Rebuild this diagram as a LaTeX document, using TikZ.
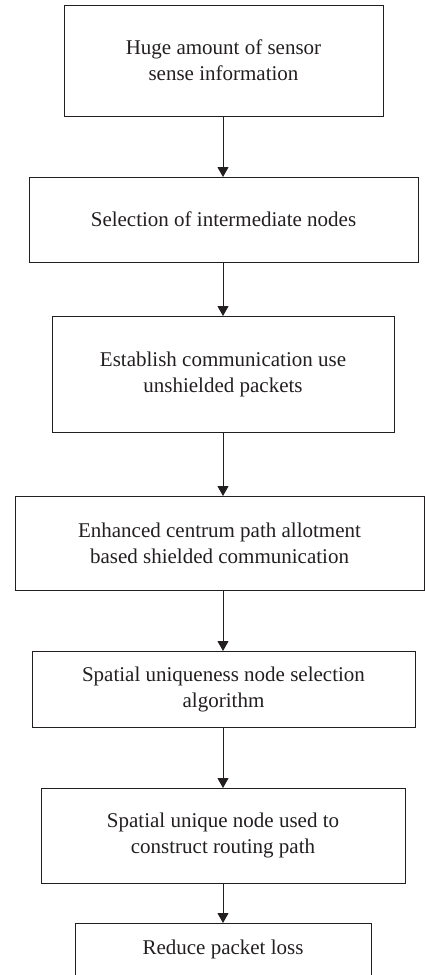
\documentclass[tikz,border=0pt]{standalone}
\usepackage{fontspec}
\setmainfont{Liberation Serif}
\usetikzlibrary{arrows.meta}
\definecolor{ink}{HTML}{231F20}
\tikzset{
  box/.style={draw=ink, line width=1pt, inner sep=0pt, outer sep=0pt,
    align=center, text=ink, font=\fontsize{21}{26}\selectfont},
  flow/.style={draw=ink, line width=1pt, -{Triangle[length=10pt,width=11pt]}}
}
\begin{document}
\begin{tikzpicture}[x=1pt,y=-1pt]
\useasboundingbox (0,0) rectangle (425,975);
\node[box, minimum width=319pt, minimum height=111pt] (b1) at (223.5,60.5)
  {Huge amount of sensor\\sense information};
\node[box, minimum width=389pt, minimum height=85pt] (b2) at (223.5,219.5)
  {Selection of intermediate nodes};
\node[box, minimum width=342pt, minimum height=116pt] (b3) at (223,374)
  {Establish communication use\\unshielded packets};
\node[box, minimum width=409pt, minimum height=94pt] (b4) at (219.5,543)
  {Enhanced centrum path allotment\\based shielded communication};
\node[box, minimum width=383pt, minimum height=76pt] (b5) at (223.5,689)
  {Spatial uniqueness node selection\\algorithm};
\node[box, minimum width=364pt, minimum height=95pt] (b6) at (223,835.5)
  {Spatial unique node used to\\construct routing path};
\node[box, minimum width=296pt, minimum height=53pt] (b7) at (223,949.5)
  {Reduce packet loss};
\coordinate (ax) at (223,0);
\draw[flow] (b1.south -| ax) -- (b2.north -| ax);
\draw[flow] (b2.south -| ax) -- (b3.north -| ax);
\draw[flow] (b3.south -| ax) -- (b4.north -| ax);
\draw[flow] (b4.south -| ax) -- (b5.north -| ax);
\draw[flow] (b5.south -| ax) -- (b6.north -| ax);
\draw[flow] (b6.south -| ax) -- (b7.north -| ax);
\end{tikzpicture}
\end{document}
